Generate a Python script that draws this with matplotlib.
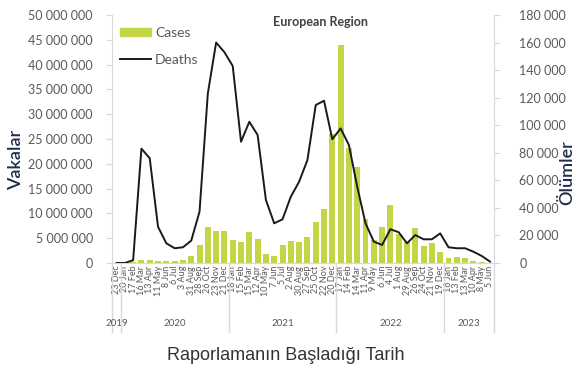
import matplotlib
matplotlib.use("Agg")
import matplotlib.pyplot as plt
import matplotlib.transforms as mtransforms
from matplotlib.ticker import FuncFormatter, MultipleLocator
from matplotlib.lines import Line2D

plt.rcParams['font.family'] = ['Lato', 'DejaVu Sans']

# 4-week reporting periods (start dates)
periods = ['23 Dec',
           '20 Jan', '17 Feb', '16 Mar', '13 Apr', '11 May', '8 Jun', '6 Jul',
           '3 Aug', '31 Aug', '28 Sep', '26 Oct', '23 Nov', '21 Dec',
           '18 Jan', '15 Feb', '15 Mar', '12 Apr', '10 May', '7 Jun', '5 Jul',
           '2 Aug', '30 Aug', '27 Sep', '25 Oct', '22 Nov', '20 Dec',
           '17 Jan', '14 Feb', '14 Mar', '11 Apr', '9 May', '6 Jun', '4 Jul',
           '1 Aug', '29 Aug', '26 Sep', '24 Oct', '21 Nov', '19 Dec',
           '16 Jan', '13 Feb', '13 Mar', '10 Apr', '8 May', '5 Jun']
years = ['2019', '2020', '2021', '2022', '2023']
year_counts = [1, 13, 13, 13, 6]

cases = [0.0, 0.02, 0.12, 0.6, 0.6, 0.35, 0.35, 0.4, 0.7, 1.4,
         3.6, 7.2, 6.5, 6.5, 4.6, 4.2, 6.2, 4.8, 1.8, 1.4,
         3.6, 4.4, 4.3, 5.3, 8.3, 10.9, 26.1, 44.0, 23.1, 19.4,
         8.8, 4.6, 7.3, 11.7, 5.8, 4.3, 7.0, 3.4, 4.0, 2.3,
         0.95, 1.3, 1.0, 0.5, 0.15, 0.05]  # millions
deaths = [0, 0, 2000, 83000, 76000, 26300, 14300, 10700, 11400, 16200,
          37200, 123000, 160000, 153000, 143000, 88000, 102500, 92900, 45700, 28800,
          31700, 48100, 59000, 74700, 114600, 117800, 89800, 97700, 85600, 55400,
          28800, 15500, 13100, 24500, 22300, 14300, 20300, 17200, 17200, 21500,
          11400, 10700, 10700, 8200, 5100, 1000]

bar_color = '#c3d545'
grey = '#595959'
spine_c = '#d9d9d9'

fig = plt.figure(figsize=(5.85, 3.75), dpi=100)
ax = fig.add_axes([0.1921, 0.2987, 0.6526, 0.6613])
ax2 = ax.twinx()

x = list(range(len(periods)))
ax.bar(x, [c * 1e6 for c in cases], width=0.72, color=bar_color, zorder=2)
ax2.plot(x, deaths, color='#1a1a1a', lw=1.4, zorder=3)

ax.set_xlim(-0.5, len(periods) - 0.5)
ax.set_ylim(0, 50e6)
ax2.set_ylim(0, 180000)
ax.yaxis.set_major_locator(MultipleLocator(5e6))
ax2.yaxis.set_major_locator(MultipleLocator(20000))
fmt = FuncFormatter(lambda v, p: f"{int(v):,}".replace(",", " "))
ax.yaxis.set_major_formatter(fmt)
ax2.yaxis.set_major_formatter(fmt)

ax.set_xticks(x)
ax.set_xticklabels(periods, rotation=90, fontsize=6.5, color=grey)
ax.tick_params(axis='x', length=0, pad=2)
ax.tick_params(axis='y', labelsize=9, labelcolor=grey, color=spine_c, length=4, pad=10)
ax2.tick_params(axis='y', labelsize=9, labelcolor=grey, color=spine_c, length=4, pad=14)

for a in (ax, ax2):
    for s in a.spines.values():
        s.set_color(spine_c)
    a.spines['top'].set_visible(False)
ax2.spines['left'].set_visible(False)
ax2.spines['bottom'].set_visible(False)
ax.spines['right'].set_visible(False)

# year grouping below the period labels
trans = mtransforms.blended_transform_factory(ax.transData, ax.transAxes)
start = -0.5
seps = [start]
for yr, n in zip(years, year_counts):
    ax.text(start + n / 2, -0.242, yr, transform=trans, ha='center', va='center',
            fontsize=7, color=grey)
    start += n
    seps.append(start)
for s in seps:
    ax.add_line(Line2D([s, s], [0, -0.28], transform=trans, color=spine_c,
                       lw=1, clip_on=False))

ax.text(0.544, 0.995, 'European Region', transform=ax.transAxes, ha='center',
        va='top', fontsize=9, fontweight='bold', color='#404040')

handles = [plt.Rectangle((0, 0), 1, 1, color=bar_color),
           Line2D([], [], color='#1a1a1a', lw=1.4)]
ax.legend(handles, ['Cases', 'Deaths'], loc='upper left', bbox_to_anchor=(-0.005, 0.99),
          frameon=False, fontsize=10, labelcolor=grey, handlelength=2.2,
          handleheight=0.5, labelspacing=1.05, borderpad=0.2, handletextpad=0.3)

fig.text(16 / 585, 1 - 160 / 375, 'Vakalar', rotation=90, ha='center', va='center',
         fontsize=13, color='#1f2d4d', fontweight='semibold')
fig.text(567 / 585, 1 - 173 / 375, 'Ölümler', rotation=90, ha='center', va='center',
         fontsize=13, color='#1f2d4d', fontweight='semibold')
fig.text(286 / 585, 1 - 355 / 375, 'Raporlamanın Başladığı Tarih', ha='center',
         va='center', fontsize=13, color='#333333', family=['Liberation Sans', 'DejaVu Sans'])

fig.savefig('out.png', dpi=100)
